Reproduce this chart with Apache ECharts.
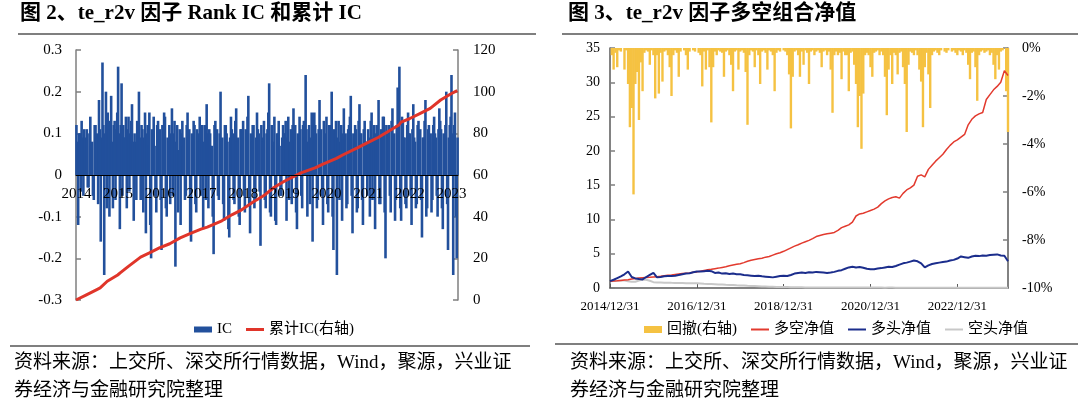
<!DOCTYPE html>
<html>
<head>
<meta charset="utf-8">
<script src="https://cdn.jsdelivr.net/npm/echarts@6/dist/echarts.min.js"></script>
<style>
  html, body { margin: 0; padding: 0; background: #fff; }
  #chart { width: 1080px; height: 403px; }
</style>
</head>
<body>
<div id="chart"></div>
<script>
// ---- Left panel: Rank IC (weekly-ish, 4 per month, 2014-01 .. 2023-02) ----
const icYears = ['2014', '2015', '2016', '2017', '2018', '2019', '2020', '2021', '2022', '2023'];
const icValues = [
  // 2014
  0.12, 0.08, -0.12, 0.10, 0.10, -0.04, 0.13, 0.09, -0.05, 0.11, 0.09, 0.06, 0.11, -0.03, -0.03, 0.10, 0.14, 0.07, 0.08, -0.05, -0.06, 0.12, 0.12, 0.09,
  0.10, -0.07, 0.18, 0.11, -0.16, 0.09, 0.27, 0.12, -0.24, 0.10, 0.20, -0.08, 0.15, 0.11, -0.10, 0.13, 0.19, 0.08, -0.08, 0.12, 0.13, -0.06, 0.11, 0.15,
  // 2015
  0.26, 0.10, -0.13, 0.12, 0.22, -0.05, 0.12, 0.09, 0.09, 0.14, -0.08, 0.11, 0.14, -0.04, 0.10, 0.13, 0.17, 0.08, -0.11, 0.10, 0.08, -0.06, 0.13, 0.10,
  0.20, 0.09, -0.06, 0.12, 0.11, -0.09, 0.09, 0.15, -0.14, 0.10, 0.12, 0.07, 0.15, -0.12, -0.20, 0.11, 0.10, 0.14, 0.07, -0.05, -0.09, 0.12, 0.13, 0.08,
  // 2016
  0.11, -0.06, -0.18, 0.12, 0.09, 0.15, 0.14, -0.08, -0.10, 0.09, 0.08, 0.12, -0.07, 0.10, 0.16, -0.05, 0.10, 0.13, -0.22, 0.08, 0.12, -0.09, 0.06, 0.11,
  -0.12, 0.10, 0.13, 0.07, 0.09, -0.06, -0.05, 0.12, 0.15, 0.09, 0.11, -0.14, -0.16, 0.10, 0.08, 0.13, 0.12, -0.07, -0.09, 0.11, 0.10, 0.08, 0.14, -0.05,
  // 2017
  0.09, 0.12, -0.13, 0.08, 0.12, -0.06, 0.17, 0.10, -0.08, 0.11, 0.10, 0.07, 0.07, -0.10, -0.19, 0.12, 0.13, 0.09, 0.11, -0.05, -0.06, 0.10, 0.20, 0.08,
  0.09, -0.07, -0.11, 0.12, 0.12, 0.10, 0.08, -0.13, -0.15, 0.09, 0.14, 0.11, 0.10, -0.06, -0.07, 0.13, 0.16, 0.08, 0.09, -0.10, -0.12, 0.11, 0.11, 0.07,
  // 2018
  0.13, -0.05, -0.09, 0.11, 0.10, 0.14, 0.19, -0.07, -0.14, 0.10, 0.08, 0.12, 0.12, -0.08, -0.06, 0.09, 0.15, 0.11, 0.10, -0.04, -0.17, 0.12, 0.09, 0.08,
  0.13, -0.06, -0.08, 0.10, 0.11, 0.15, 0.22, -0.09, -0.10, 0.12, 0.08, 0.07, 0.14, -0.11, -0.12, 0.10, 0.10, 0.13, 0.07, -0.05, -0.05, 0.09, 0.12, 0.10,
  // 2019
  0.10, 0.13, -0.11, 0.09, 0.14, -0.06, 0.08, 0.11, -0.07, 0.12, 0.16, 0.08, 0.12, -0.09, -0.13, 0.10, 0.09, 0.14, 0.11, -0.05, -0.08, 0.12, 0.13, 0.09,
  0.24, 0.11, -0.10, 0.08, 0.12, -0.07, 0.09, 0.15, -0.16, 0.10, 0.15, 0.12, 0.10, -0.08, -0.06, 0.11, 0.18, 0.09, 0.11, -0.05, -0.12, 0.13, 0.09, 0.10,
  // 2020
  0.14, -0.07, -0.09, 0.12, 0.12, 0.08, 0.20, -0.10, -0.18, 0.11, 0.10, 0.13, -0.24, 0.09, 0.13, -0.06, 0.08, 0.12, -0.11, 0.10, 0.16, 0.09, 0.10, -0.08,
  -0.07, 0.11, 0.12, 0.14, 0.19, -0.05, -0.14, 0.10, 0.09, 0.12, 0.11, -0.09, -0.08, 0.13, 0.17, 0.10, 0.10, -0.06, -0.12, 0.11, 0.13, 0.08, 0.08, -0.05,
  // 2021
  0.11, 0.09, -0.10, 0.13, 0.15, -0.06, 0.09, 0.12, -0.13, 0.10, 0.12, 0.08, 0.18, -0.07, -0.07, 0.11, 0.10, 0.14, 0.14, -0.09, -0.20, 0.12, 0.09, 0.10,
  0.12, -0.05, -0.09, 0.13, 0.16, 0.08, 0.10, -0.11, -0.06, 0.12, 0.21, 0.10, 0.26, -0.08, -0.11, 0.14, 0.13, 0.09, 0.09, -0.07, -0.08, 0.12, 0.15, 0.10,
  // 2022
  0.10, -0.05, -0.12, 0.11, 0.17, 0.09, 0.08, -0.08, -0.07, 0.12, 0.13, 0.10, 0.11, -0.06, -0.15, 0.09, 0.09, 0.13, 0.18, -0.10, -0.08, 0.11, 0.12, 0.08,
  0.10, -0.09, -0.06, 0.12, 0.14, 0.10, 0.09, -0.05, -0.10, 0.11, 0.16, 0.13, 0.11, -0.08, -0.13, 0.10, 0.08, 0.12, 0.20, -0.07, -0.18, 0.09, 0.12, 0.14,
  // 2023 Jan-Feb
  0.24, 0.10, -0.24, 0.12, 0.15, -0.10, -0.20, 0.09
];
// cumulative IC (right axis), years after 2014-01
const cumT  = [0, 0.25, 0.5, 0.58, 0.75, 1.0, 1.06, 1.25, 1.55, 1.75, 2.0, 2.25, 2.5, 2.75, 3.0, 3.15, 3.5, 3.75, 3.95, 4.25, 4.5, 4.75, 5.0, 5.4, 5.75, 5.9, 6.25, 6.4, 6.75, 7.0, 7.25, 7.5, 7.75, 7.8, 8.0, 8.25, 8.5, 8.75, 9.0, 9.1, 9.15];
const cumIC = [0, 2.5, 5, 5.8, 9, 12, 13, 16, 20.6, 22.5, 25, 27, 29.8, 32, 34, 35, 38, 41, 43, 47, 50, 54, 57, 61, 63.5, 65, 68, 69.6, 73, 75.5, 78, 81, 84, 85.4, 87, 89.5, 92, 96, 99, 100, 100.5];

// ---- Right panel: NAV (monthly from 2014/12/31), drawdown (half-monthly) ----
const navTickLabels = ['2014/12/31', '2016/12/31', '2018/12/31', '2020/12/31', '2022/12/31'];
const lsNav = [
  1.00, 1.02, 1.05, 1.10, 1.15, 1.20, 1.30, 1.38, 1.45, 1.50, 1.53, 1.55,
  1.60, 1.65, 1.70, 1.78, 1.85, 1.90, 1.98, 2.05, 2.10, 2.15, 2.20, 2.28,
  2.35, 2.45, 2.55, 2.65, 2.72, 2.82, 2.90, 3.00, 3.10, 3.25, 3.35, 3.45,
  3.55, 3.70, 3.90, 4.05, 4.15, 4.25, 4.35, 4.50, 4.60, 4.80, 5.00, 5.15,
  5.35, 5.60, 5.85, 6.10, 6.30, 6.55, 6.75, 6.95, 7.20, 7.50, 7.65, 7.80,
  7.90, 8.00, 8.10, 8.40, 8.80, 9.00, 9.20, 9.60, 10.5, 10.8, 10.9, 11.1,
  11.3, 11.5, 11.8, 12.3, 12.7, 13.0, 13.2, 13.3, 13.1, 13.8, 14.3, 14.6,
  15.0, 16.3, 16.5, 16.2, 17.3, 17.9, 18.5, 19.0, 19.5, 20.2, 20.8, 21.3,
  21.6, 22.0, 22.4, 23.8, 24.6, 25.1, 25.4, 25.6, 27.5, 28.2, 28.9, 29.4,
  30.0, 31.7, 31.0
];
const longNav = [
  1.00, 1.20, 1.45, 1.70, 2.00, 2.40, 1.60, 1.40, 1.30, 1.25, 1.60, 1.90,
  2.20, 1.55, 1.60, 1.70, 1.75, 1.75, 1.80, 1.90, 2.00, 2.10, 2.15, 2.30,
  2.40, 2.40, 2.45, 2.50, 2.45, 2.20, 2.25, 2.10, 2.15, 2.05, 2.10, 2.00,
  2.00, 1.90, 1.85, 1.80, 1.75, 1.80, 1.70, 1.65, 1.60, 1.55, 1.65, 1.75,
  1.80, 1.75, 1.90, 2.10, 2.20, 2.25, 2.20, 2.30, 2.25, 2.35, 2.30, 2.25,
  2.20, 2.25, 2.35, 2.50, 2.60, 2.80, 3.00, 3.10, 3.00, 3.05, 2.95, 2.80,
  2.75, 2.75, 2.85, 2.90, 3.00, 3.10, 3.05, 3.20, 3.40, 3.60, 3.70, 3.85,
  4.00, 3.90, 3.60, 3.00, 3.30, 3.50, 3.60, 3.70, 3.80, 3.85, 4.00, 4.10,
  4.30, 4.60, 4.50, 4.40, 4.60, 4.70, 4.65, 4.75, 4.70, 4.80, 4.85, 4.90,
  4.75, 4.70, 3.90
];
const shortNav = [
  1.00, 1.02, 1.05, 1.10, 1.08, 1.00, 0.90, 0.92, 1.10, 1.25, 1.20, 1.05,
  0.85, 0.82, 0.80, 0.78, 0.77, 0.75, 0.74, 0.72, 0.72, 0.70, 0.70, 0.69,
  0.68, 0.65, 0.62, 0.60, 0.58, 0.55, 0.52, 0.50, 0.47, 0.45, 0.43, 0.40,
  0.38, 0.35, 0.32, 0.30, 0.28, 0.26, 0.23, 0.21, 0.19, 0.18, 0.16, 0.15,
  0.14, 0.13, 0.12, 0.11, 0.10, 0.10, 0.09, 0.09, 0.09, 0.08, 0.08, 0.08,
  0.08, 0.08, 0.07, 0.07, 0.07, 0.07, 0.07, 0.07, 0.07, 0.06, 0.06, 0.06,
  0.06, 0.06, 0.06, 0.06, 0.05, 0.06, 0.06, 0.05, 0.05, 0.05, 0.05, 0.05,
  0.05, 0.05, 0.05, 0.05, 0.04, 0.04, 0.04, 0.04, 0.04, 0.04, 0.04, 0.04,
  0.04, 0.04, 0.04, 0.04, 0.04, 0.03, 0.03, 0.03, 0.03, 0.03, 0.03, 0.03,
  0.03, 0.03, 0.03
];
// drawdown in %, every half month
const drawdown = [
  0, -0.3, -0.9, -0.2, -0.8, -0.1, -0.15, 0, -0.9, -0.1, -1.5, -3.3, -2.5, -6.1, -1.5, -1.0, -3.0, -0.6, -1.8, -0.2,
  -0.1, -0.15, -0.7, -0.1, -0.3, -2.1, -0.3, -1.9, -0.2, -1.4, -0.15, -0.1, -0.3, -0.8, -2.0, -0.3, -0.1, -0.2, -1.2, -0.15,
  0, -0.1, -0.3, -0.9, -0.15, 0, -0.1, -0.15, 0, -0.2, -0.3, -1.6, -0.15, -0.9, -0.1, -0.8, -3.1, -0.8, -0.15, -0.3,
  -0.1, -0.15, -0.2, -1.2, -0.15, -0.1, -0.3, -0.7, -1.8, -0.15, -0.1, -0.9, -0.15, -0.1, -0.2, -1.0, -3.2, -0.3, -0.1, -0.15,
  -0.8, -0.1, -0.3, -1.5, -0.15, -0.1, -0.2, -0.9, -0.1, -0.15, -0.3, -1.8, -0.2, -0.1, -0.15, 0, -0.1, -0.15, -0.3, -1.1,
  -3.35, -1.2, -0.15, -0.1, -0.3, -1.2, -0.15, -0.7, -0.1, -0.2, -1.5, -0.15, -0.1, -0.3, -0.15, -0.1, -0.2, -0.8, -0.15, -0.1,
  -0.3, -0.15, -0.9, -2.7, -0.3, -0.15, -0.3, -0.2, -1.3, -0.15, -0.3, -0.3, -1.8, -0.2, -0.15, -0.7, -1.5, -3.3, -2.0, -4.2,
  -1.9, -0.3, -0.2, -0.3, -0.8, -1.2, -0.2, -0.15, -0.1, -0.3, -0.15, -0.3, -1.2, -2.8, -0.9, -0.3, -1.5, -0.2, -0.3, -1.1,
  -0.2, -0.15, -0.8, -1.5, -3.5, -0.7, -0.15, -0.2, -0.3, -0.1, -0.3, -0.9, -1.4, -3.3, -0.8, -0.2, -1.1, -2.5, -0.3, -0.15,
  -0.1, -0.2, -0.3, -0.1, 0, -0.15, -0.2, -0.1, 0, -0.15, -0.1, -0.2, -0.3, -0.1, -0.15, -0.3, -0.1, -0.2, -0.7, -1.3,
  -0.2, -0.15, -0.8, -2.2, -0.3, -0.15, -0.1, -0.2, -0.15, -0.1, -0.3, -0.2, -0.7, -1.3, -0.3, -0.9, -0.15, -0.1, 0, -1.8,
  -3.5
];

document.addEventListener('DOMContentLoaded', function () {
  const FONT = '"Liberation Serif", "Noto Sans CJK SC", serif';
  const GREY = '#7f7f7f';
  const IC_BLUE = '#22509c';
  const DD_YELLOW = '#f5c242';
  // legend icons for line series: a plain stroke, no marker
  const thinLine = 'path://M0,0H18V2H0Z';
  const thickLine = 'path://M0,0H18V3H0Z';

  // 4 slots a month; the label shows the year at its first slot
  const PER_YEAR = 48;
  const icCats = [];
  icYears.forEach(y => {
    for (let k = 0; k < PER_YEAR; k++) icCats.push(y + '-' + k);
  });
  const icCategories = icCats.slice(0, icValues.length);
  const icSpan = icValues.length / PER_YEAR; // years covered by the category axis

  const toPairs = (xs, ys) => ys.map((v, i) => [xs[i], v]);
  const monthT = lsNav.map((_, i) => i / 12);
  const halfT = drawdown.map((_, i) => i / 24);
  const navSpan = (lsNav.length - 1) / 12;

  // thin bar from 0 to the value, drawn a fixed number of px wide so
  // neighbouring bars overlap like the dense daily bars of the original
  const thinBar = (width, fill) => function (params, api) {
    const base = api.coord([api.value(0), 0]);
    const tip = api.coord([api.value(0), api.value(1)]);
    return {
      type: 'rect',
      shape: { x: base[0] - width / 2, y: Math.min(base[1], tip[1]), width: width, height: Math.abs(tip[1] - base[1]) },
      style: { fill: fill }
    };
  };

  const yAxisBase = {
    type: 'value',
    splitLine: { show: false },
    axisLine: { show: true, lineStyle: { color: GREY, width: 1.5 } },
    axisTick: { show: true, inside: true, length: 5, lineStyle: { color: GREY, width: 1.5 } },
    axisLabel: { color: '#000', fontFamily: FONT, fontSize: 15 }
  };

  const chart = echarts.init(document.getElementById('chart'));
  const option = {
    animation: false,
    textStyle: { fontFamily: FONT },
    grid: [
      { left: 76, top: 50, width: 382, height: 250 },
      { left: 610, top: 48, width: 398, height: 240 }
    ],
    xAxis: [
      {
        // category axis sits on the zero line (half the grid height up)
        type: 'category', gridIndex: 0, data: icCategories, boundaryGap: true, z: 5,
        position: 'bottom', offset: -125,
        axisLine: { onZero: false, lineStyle: { color: '#000', width: 1 } },
        axisTick: { show: false },
        axisLabel: {
          color: '#000', fontFamily: FONT, fontSize: 15, margin: 12,
          interval: (idx) => idx % PER_YEAR === 0,
          formatter: (v) => v.slice(0, 4)
        }
      },
      { type: 'value', gridIndex: 0, min: 0, max: icSpan, show: false },
      {
        type: 'value', gridIndex: 1, min: 0, max: navSpan, interval: 2,
        splitLine: { show: false },
        axisLine: { lineStyle: { color: '#595959', width: 1.5 } },
        axisTick: { inside: true, length: 4, lineStyle: { color: '#595959' } },
        axisLabel: {
          color: '#000', fontFamily: FONT, fontSize: 13, margin: 12, showMaxLabel: false,
          formatter: (v) => {
            const k = Math.round(v / 2);
            return Math.abs(v - k * 2) < 1e-6 && navTickLabels[k] ? navTickLabels[k] : '';
          }
        }
      }
    ],
    yAxis: [
      Object.assign({}, yAxisBase, {
        gridIndex: 0, min: -0.3, max: 0.3, interval: 0.1,
        axisLabel: Object.assign({}, yAxisBase.axisLabel, { margin: 14, formatter: (v) => String(+v.toFixed(1)) })
      }),
      Object.assign({}, yAxisBase, {
        gridIndex: 0, position: 'right', min: 0, max: 120, interval: 20,
        axisLabel: Object.assign({}, yAxisBase.axisLabel, { margin: 15 })
      }),
      Object.assign({}, yAxisBase, {
        gridIndex: 1, min: 0, max: 35, interval: 5,
        axisLine: { show: true, lineStyle: { color: '#595959', width: 1.5 } },
        axisLabel: Object.assign({}, yAxisBase.axisLabel, { fontSize: 14, margin: 10 })
      }),
      Object.assign({}, yAxisBase, {
        gridIndex: 1, position: 'right', min: -10, max: 0, interval: 2,
        axisLine: { show: true, lineStyle: { color: '#595959', width: 1.5 } },
        axisLabel: Object.assign({}, yAxisBase.axisLabel, { fontSize: 14, margin: 14, formatter: (v) => v + '%' })
      })
    ],
    legend: [
      {
        left: 189, top: 317, itemWidth: 18, itemHeight: 6, itemGap: 14,
        textStyle: { fontFamily: FONT, fontSize: 15, color: '#000' },
        data: [{ name: 'IC', icon: 'rect' }, { name: '累计IC(右轴)', icon: thickLine }]
      },
      {
        left: 639, top: 317, itemWidth: 18, itemHeight: 7, itemGap: 14,
        textStyle: { fontFamily: FONT, fontSize: 15, color: '#000' },
        data: [
          { name: '回撤(右轴)', icon: 'rect' },
          { name: '多空净值', icon: thinLine },
          { name: '多头净值', icon: thinLine },
          { name: '空头净值', icon: thinLine }
        ]
      }
    ],
    series: [
      {
        name: 'IC', type: 'custom', xAxisIndex: 0, yAxisIndex: 0,
        data: icValues.map((v, i) => [i, v]), encode: { x: 0, y: 1 },
        renderItem: thinBar(2.6, IC_BLUE),
        itemStyle: { color: IC_BLUE }
      },
      {
        name: '累计IC(右轴)', type: 'line', xAxisIndex: 1, yAxisIndex: 1, z: 4,
        data: toPairs(cumT, cumIC), showSymbol: false, symbol: 'none',
        lineStyle: { color: '#e0352a', width: 3 }, itemStyle: { color: '#e0352a' }
      },
      {
        name: '回撤(右轴)', type: 'custom', xAxisIndex: 2, yAxisIndex: 3,
        data: toPairs(halfT, drawdown), encode: { x: 0, y: 1 },
        renderItem: thinBar(2.4, DD_YELLOW),
        itemStyle: { color: DD_YELLOW }
      },
      {
        name: '空头净值', type: 'line', xAxisIndex: 2, yAxisIndex: 2,
        data: toPairs(monthT, shortNav), showSymbol: false, symbol: 'none',
        lineStyle: { color: '#c8c8c8', width: 2 }, itemStyle: { color: '#c8c8c8' }
      },
      {
        name: '多空净值', type: 'line', xAxisIndex: 2, yAxisIndex: 2,
        data: toPairs(monthT, lsNav), showSymbol: false, symbol: 'none',
        lineStyle: { color: '#e23a2e', width: 1.5 }, itemStyle: { color: '#e23a2e' }
      },
      {
        name: '多头净值', type: 'line', xAxisIndex: 2, yAxisIndex: 2,
        data: toPairs(monthT, longNav), showSymbol: false, symbol: 'none',
        lineStyle: { color: '#1b2d8c', width: 2 }, itemStyle: { color: '#1b2d8c' }
      }
    ],
    graphic: [
      { type: 'text', left: 20, top: 3, style: { text: '图 2、te_r2v 因子 Rank IC 和累计 IC', fontFamily: FONT, fontSize: 21, fontWeight: 'bold', fill: '#000' } },
      { type: 'text', left: 568, top: 3, style: { text: '图 3、te_r2v 因子多空组合净值', fontFamily: FONT, fontSize: 21, fontWeight: 'bold', fill: '#000' } },
      { type: 'line', shape: { x1: 18, y1: 34, x2: 536, y2: 34 }, style: { stroke: GREY, lineWidth: 2 } },
      { type: 'line', shape: { x1: 562, y1: 34, x2: 1078, y2: 34 }, style: { stroke: GREY, lineWidth: 2 } },
      { type: 'line', shape: { x1: 10, y1: 346, x2: 530, y2: 346 }, style: { stroke: '#555', lineWidth: 1.5 } },
      { type: 'line', shape: { x1: 555, y1: 344, x2: 1078, y2: 344 }, style: { stroke: '#555', lineWidth: 1.5 } },
      { type: 'text', left: 14, top: 354, style: { text: '资料来源：上交所、深交所行情数据，Wind，聚源，兴业证', fontFamily: FONT, fontSize: 19, fill: '#000' } },
      { type: 'text', left: 14, top: 382, style: { text: '券经济与金融研究院整理', fontFamily: FONT, fontSize: 19, fill: '#000' } },
      { type: 'text', left: 570, top: 354, style: { text: '资料来源：上交所、深交所行情数据，Wind，聚源，兴业证', fontFamily: FONT, fontSize: 19, fill: '#000' } },
      { type: 'text', left: 570, top: 382, style: { text: '券经济与金融研究院整理', fontFamily: FONT, fontSize: 19, fill: '#000' } }
    ]
  };
  chart.setOption(option);
});
</script>
</body>
</html>
